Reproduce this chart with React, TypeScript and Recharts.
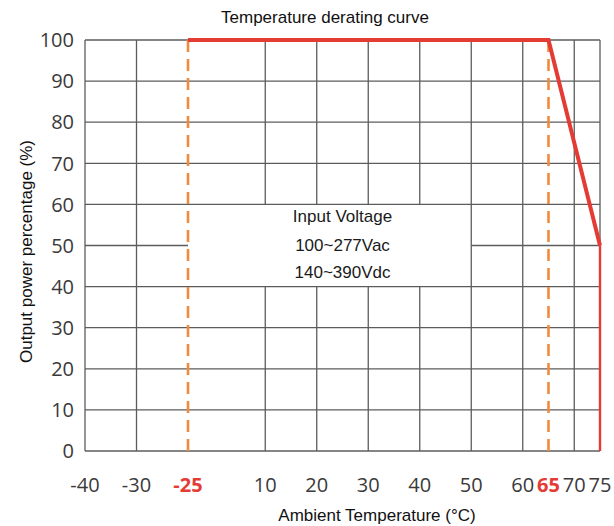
import React from 'react';
import { LineChart, Line, XAxis, YAxis, ReferenceLine, ReferenceDot } from 'recharts';

// Broken (non-linear) temperature axis: each labelled temperature sits in a slot
const tempTicks = [-40, -30, -25, 10, 20, 30, 40, 50, 60, 65, 70, 75];
const tickSlots = [0, 1, 2, 3.5, 4.5, 5.5, 6.5, 7.5, 8.5, 9, 9.5, 10];
const highlightTemps = [-25, 65];

const powerTicks = [0, 10, 20, 30, 40, 50, 60, 70, 80, 90, 100];

// grid
const fullVerticalTemps = [-40, -30, 50, 60, 70, 75];
const brokenVerticalTemps = [10, 20, 30, 40];
const noteGapPower = [40, 60];
const fullHorizontalPower = [0, 10, 20, 30, 40, 60, 70, 80, 90, 100];
const brokenHorizontalPower = 50;
const noteGapTemp = [-25, 50];

// derating curve
const curveTemps = [-25, 65, 75];
const curvePower = [100, 100, 50];
const dropTemps = [75, 75];
const dropPower = [50, 0];

// dashed markers
const markerTemps = [-25, 65];

// note
const noteLines = ['Input Voltage', '100~277Vac', '140~390Vdc'];
const notePower = [57.2, 50.1, 43.5];
const noteTemp = 25;

const toPos = (t: number) => {
  for (let i = 0; i < tempTicks.length - 1; i++) {
    const a = tempTicks[i];
    const b = tempTicks[i + 1];
    if (t >= a && t <= b) {
      if (a === b) return tickSlots[i];
      return tickSlots[i] + ((t - a) / (b - a)) * (tickSlots[i + 1] - tickSlots[i]);
    }
  }
  return t < tempTicks[0] ? tickSlots[0] : tickSlots[tickSlots.length - 1];
};

const curveData = curveTemps.map((t, i) => ({ pos: toPos(t), power: curvePower[i] }));
const dropData = dropTemps.map((t, i) => ({ pos: toPos(t), power: dropPower[i] }));

const GRID = '#5c5c5c';
const RED = '#e53b35';
const ORANGE = '#f28a3c';
const TICK_FONT = '"Open Sans", "Noto Sans", sans-serif';
const TEXT_FONT = '"Liberation Sans", Arial, sans-serif';

const XTick = (props: any) => {
  const { x, y, payload } = props;
  const idx = tickSlots.indexOf(payload.value);
  const t = tempTicks[idx];
  const hl = highlightTemps.includes(t);
  return (
    <text
      x={x}
      y={y}
      dy="0.36em"
      textAnchor="middle"
      fontFamily={TICK_FONT}
      fontSize={20}
      fontWeight={hl ? 700 : 400}
      fill={hl ? RED : '#3a3a3a'}
    >
      {t}
    </text>
  );
};

const YTick = (props: any) => {
  const { x, y, payload } = props;
  return (
    <text x={x} y={y} dy="0.36em" textAnchor="end" fontFamily={TICK_FONT} fontSize={20} fill="#3a3a3a">
      {payload.value}
    </text>
  );
};

const XLabel = (props: any) => {
  const vb = props.viewBox || {};
  return (
    <text
      x={vb.x + vb.width * 0.567}
      y={vb.y + 64}
      textAnchor="middle"
      dy="0.36em"
      fontFamily={TEXT_FONT}
      fontSize={17}
      fill="#111"
    >
      Ambient Temperature (°C)
    </text>
  );
};

const YLabel = (props: any) => {
  const vb = props.viewBox || {};
  const cx = 26;
  const cy = vb.y + vb.height / 2 + 6;
  return (
    <text
      x={cx}
      y={cy}
      transform={`rotate(-90 ${cx} ${cy})`}
      textAnchor="middle"
      dy="0.36em"
      fontFamily={TEXT_FONT}
      fontSize={17}
      fill="#111"
    >
      Output power percentage (%)
    </text>
  );
};

export default function App() {
  return (
    <div style={{ position: 'absolute', left: 0, top: 0, width: 614, height: 526, background: '#fff' }}>
      <div
        style={{
          position: 'absolute',
          left: 175,
          top: 8,
          width: 300,
          textAlign: 'center',
          fontFamily: TEXT_FONT,
          fontSize: 17,
          lineHeight: '20px',
          color: '#111',
        }}
      >
        Temperature derating curve
      </div>
      <LineChart width={614} height={526} margin={{ top: 40, right: 14, bottom: 0, left: 0 }}>
        <XAxis
          type="number"
          dataKey="pos"
          domain={[0, 10]}
          ticks={tickSlots}
          interval={0}
          axisLine={false}
          tickLine={false}
          tickSize={0}
          tickMargin={34}
          height={75}
          tick={<XTick />}
          label={<XLabel />}
        />
        <YAxis
          type="number"
          dataKey="power"
          domain={[0, 100]}
          ticks={powerTicks}
          interval={0}
          axisLine={false}
          tickLine={false}
          tickSize={0}
          tickMargin={11}
          width={85}
          tick={<YTick />}
          label={<YLabel />}
        />

        {fullHorizontalPower.map((p) => (
          <ReferenceLine key={`h${p}`} y={p} stroke={GRID} strokeWidth={1.3} />
        ))}
        <ReferenceLine
          segment={[
            { x: toPos(tempTicks[0]), y: brokenHorizontalPower },
            { x: toPos(noteGapTemp[0]), y: brokenHorizontalPower },
          ]}
          stroke={GRID}
          strokeWidth={1.3}
        />
        <ReferenceLine
          segment={[
            { x: toPos(noteGapTemp[1]), y: brokenHorizontalPower },
            { x: toPos(tempTicks[tempTicks.length - 1]), y: brokenHorizontalPower },
          ]}
          stroke={GRID}
          strokeWidth={1.3}
        />
        {fullVerticalTemps.map((t) => (
          <ReferenceLine key={`v${t}`} x={toPos(t)} stroke={GRID} strokeWidth={1.3} />
        ))}
        {brokenVerticalTemps.map((t) => (
          <ReferenceLine
            key={`vb1${t}`}
            segment={[
              { x: toPos(t), y: 0 },
              { x: toPos(t), y: noteGapPower[0] },
            ]}
            stroke={GRID}
            strokeWidth={1.3}
          />
        ))}
        {brokenVerticalTemps.map((t) => (
          <ReferenceLine
            key={`vb2${t}`}
            segment={[
              { x: toPos(t), y: noteGapPower[1] },
              { x: toPos(t), y: 100 },
            ]}
            stroke={GRID}
            strokeWidth={1.3}
          />
        ))}

        {markerTemps.map((t) => (
          <ReferenceLine
            key={`m${t}`}
            x={toPos(t)}
            stroke={ORANGE}
            strokeWidth={2.6}
            strokeDasharray="12 7"
          />
        ))}

        {noteLines.map((s, i) => (
          <ReferenceDot
            key={`n${i}`}
            x={toPos(noteTemp)}
            y={notePower[i]}
            r={0}
            stroke="none"
            fill="none"
            label={{
              value: s,
              position: 'center',
              fontFamily: TEXT_FONT,
              fontSize: 17,
              fill: '#1a1a1a',
            }}
          />
        ))}

        <Line
          data={dropData}
          dataKey="power"
          type="linear"
          stroke={RED}
          strokeWidth={2.4}
          dot={false}
          activeDot={false}
          isAnimationActive={false}
        />
        <Line
          data={curveData}
          dataKey="power"
          type="linear"
          stroke={RED}
          strokeWidth={4}
          dot={false}
          activeDot={false}
          isAnimationActive={false}
          strokeLinejoin="miter"
        />
      </LineChart>
    </div>
  );
}
